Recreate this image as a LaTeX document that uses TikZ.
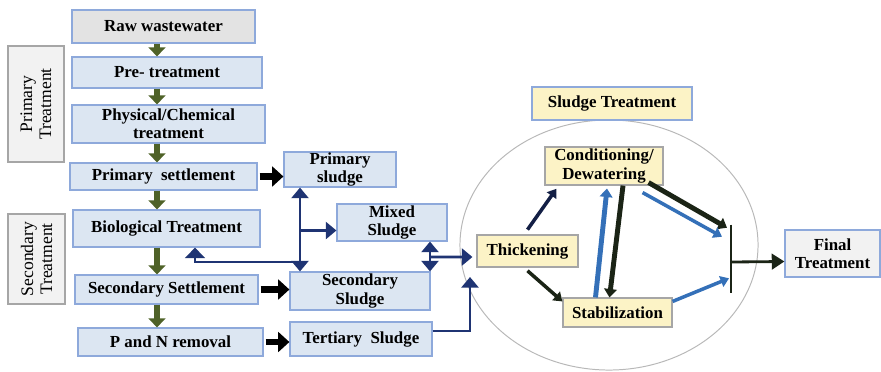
\documentclass[tikz,border=0pt]{standalone}
\usepackage{fontspec}
\setmainfont{Liberation Serif}
\usetikzlibrary{arrows.meta, positioning, calc}

\definecolor{boxfill}{HTML}{DCE6F2}
\definecolor{boxline}{HTML}{8EA9DB}
\definecolor{rawfill}{HTML}{E3E3E3}
\definecolor{sidefill}{HTML}{F2F2F2}
\definecolor{sideline}{HTML}{A6A6A6}
\definecolor{sludgefill}{HTML}{FCF3C6}
\definecolor{flowgreen}{HTML}{4F6228}
\definecolor{navy}{HTML}{1F3473}
\definecolor{sludgeblue}{HTML}{3470B8}
\definecolor{darkline}{HTML}{1B2416}

\begin{document}
\begin{tikzpicture}[x=0.025cm, y=-0.025cm,
    every node/.style={font=\fontsize{12}{13}\selectfont\bfseries, align=center, inner sep=0pt},
    box/.style={draw=boxline, fill=boxfill, line width=0.8pt},
    rawbox/.style={box, fill=rawfill},
    sidebox/.style={draw=sideline, fill=sidefill, line width=1.2pt, rotate=90,
      font=\fontsize{12.5}{13.5}\selectfont},
    ybox/.style={draw=sideline, fill=sludgefill, line width=0.8pt},
    greenarr/.style={draw=flowgreen, line width=4pt, -{Triangle[width=12pt,length=6.5pt]}},
    blackarr/.style={draw=black, line width=4.5pt, -{Triangle[width=14pt,length=8pt]}},
    navytip/.tip={Triangle[width=12pt,length=7.5pt]},
    navyarr/.style={draw=navy, line width=1.8pt},
    darkarr/.style={draw=darkline, line width=2.5pt, -{Triangle[width=8pt,length=6pt]}},
    bluearr/.style={draw=sludgeblue, line width=2.5pt, -{Triangle[width=8pt,length=6pt]}}]
    \useasboundingbox (0,0) rectangle (881,371);

    % wastewater line
    \node[rawbox, minimum width=4.575cm, minimum height=0.825cm] (raw) at (163.5,26.5) {Raw wastewater};
    \node[box, minimum width=4.75cm, minimum height=0.775cm] (pre) at (167,72.5) {Pre- treatment};
    \node[box, minimum width=4.825cm, minimum height=0.95cm] (phys) at (168.5,124) {Physical/Chemical\\treatment};
    \node[box, minimum width=4.675cm, minimum height=0.675cm] (primset) at (163.5,176.5) {Primary~ settlement};
    \node[box, minimum width=4.675cm, minimum height=0.925cm] (bio) at (166.5,228.5) {Biological Treatment};
    \node[box, minimum width=4.575cm, minimum height=0.725cm] (secset) at (166.5,289.5) {Secondary Settlement};
    \node[box, minimum width=4.625cm, minimum height=0.7cm] (pnrem) at (170.5,342) {P and N removal};

    % stage labels
    \node[sidebox, minimum width=2.9cm, minimum height=1.4cm] (primtr) at (36,104) {Primary\\Treatment};
    \node[sidebox, minimum width=2.25cm, minimum height=1.425cm] (sectr) at (36.5,259) {Secondary\\Treatment};

    % sludges
    \node[box, minimum width=2.8cm, minimum height=0.875cm] (primsl) at (340,169.5) {Primary\\sludge};
    \node[box, minimum width=2.75cm, minimum height=0.925cm] (mixsl) at (392,222.5) {Mixed\\Sludge};
    \node[box, minimum width=3.5cm, minimum height=0.95cm] (secsl) at (360,291) {Secondary\\Sludge};
    \node[box, minimum width=3.55cm, minimum height=0.85cm] (tersl) at (361,339) {Tertiary~~Sludge};

    % sludge treatment
    \draw[sideline!80, line width=0.7pt] (609,245) ellipse (3.725cm and 3.125cm);
    \node[ybox, draw=boxline, minimum width=4cm, minimum height=0.825cm] (sludgetr) at (612,103.5) {Sludge Treatment};
    \node[ybox, minimum width=2.95cm, minimum height=0.95cm] (cond) at (604,166) {Conditioning/\\Dewatering};
    \node[ybox, minimum width=2.525cm, minimum height=0.8cm] (thick) at (527.5,251) {Thickening};
    \node[ybox, minimum width=2.725cm, minimum height=0.725cm] (stab) at (617.5,312.5) {Stabilization};
    \node[minimum width=0pt, minimum height=1.7cm] (bar) at (731,259) {};
    \draw[darkline, line width=1.5pt] (bar.north) -- (bar.south);
    \node[draw=boxline, fill=sidefill, line width=0.8pt, minimum width=2.375cm, minimum height=1.175cm] (final) at (832.5,253.5) {Final\\Treatment};

    % main flow
    \coordinate (gx) at (157,0);
    \foreach \a/\b in {raw/pre, pre/phys, phys/primset, primset/bio, bio/secset, secset/pnrem}
      \draw[greenarr] (\a.south -| gx) -- (\b.north -| gx);

    \draw[blackarr] ([xshift=0.05cm]primset.east) -- (primset.east -| primsl.west);
    \draw[blackarr] ([xshift=0.05cm]secset.east) -- (secset.east -| secsl.west);
    \draw[blackarr] ([xshift=0.05cm]pnrem.east) -- (pnrem.east -| tersl.west);

    % sludge lines
    \coordinate (vx) at (300,0);
    \coordinate (ret) at (195,262);
    \draw[navyarr, navytip-navytip] (primsl.south -| vx) -- (secsl.north -| vx);
    \draw[navyarr, -navytip] (vx |- mixsl.west) ++(0,8) -- ([yshift=-0.2cm]mixsl.west);
    \draw[navyarr, -{Triangle[width=14pt,length=7.5pt]}] (ret -| vx) -- (ret) -- (ret |- bio.south);

    \coordinate (dx) at (430,0);
    \coordinate (tx) at (470,277);
    \draw[navyarr, navytip-navytip] (mixsl.south -| dx) -- (secsl.north -| dx);
    \draw[navyarr, -navytip] (dx |- thick.west) ++(0,6) -- ([xshift=-0.1cm,yshift=-0.15cm]thick.west);
    \draw[navyarr, -navytip] ([yshift=0.2cm]tersl.east) -| (tx);

    % inside sludge treatment
    \draw[darkarr, draw=navy!60!black] ([yshift=0.12cm]thick.north) -- ([xshift=0.3cm,yshift=-0.08cm]cond.south west);
    \draw[darkarr] ([yshift=-0.08cm]thick.south) -- ([yshift=-0.1cm]stab.north west);
    \draw[bluearr, line width=3.5pt, -{Triangle[width=9pt,length=6pt]}] ([xshift=-0.55cm]stab.north) -- ([xshift=0.075cm,yshift=-0.075cm]cond.south);
    \draw[darkarr, line width=3.5pt, -{Triangle[width=9pt,length=6pt]}] ([xshift=0.475cm]cond.south) -- ([xshift=-0.2cm]stab.north);
    \draw[darkarr, line width=3.5pt, -{Triangle[width=9pt,length=6pt]}] ([xshift=-0.375cm,yshift=0.075cm]cond.south east) -- ([xshift=-0.1cm,yshift=-0.075cm]bar.north);
    \draw[bluearr] ([xshift=-0.525cm,yshift=-0.175cm]cond.south east) -- ([xshift=-0.225cm,yshift=-0.3cm]bar.north);
    \draw[bluearr] ([yshift=-0.1cm]stab.north east) -- ([xshift=-0.05cm,yshift=0.375cm]bar.south);
    \draw[darkarr, line width=2pt, -{Triangle[width=11pt,length=9pt]}] ([yshift=-0.075cm]bar.center) -- ([yshift=-0.2cm]final.west);
\end{tikzpicture}
\end{document}
